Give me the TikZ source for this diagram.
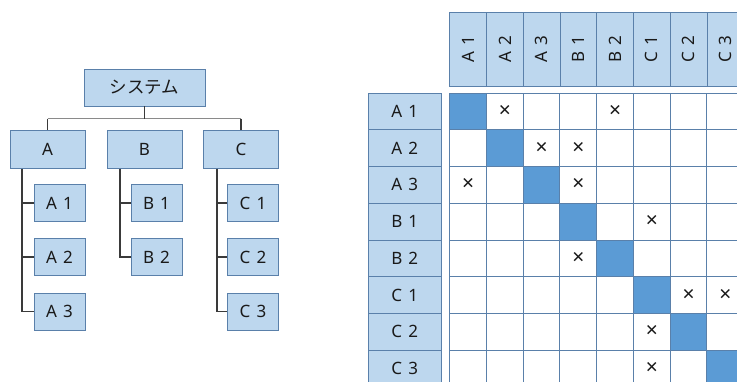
\documentclass[tikz,border=0pt]{standalone}
\usepackage{fontspec}
\setmainfont{Noto Sans}[WordSpace=1.4]
\newfontfamily\jpfont{Noto Sans CJK JP}
\definecolor{lb}{HTML}{BDD7EE}
\definecolor{bdr}{HTML}{5A80AA}
\definecolor{gridc}{HTML}{5A80AA}
\definecolor{diag}{HTML}{5B9BD5}
\definecolor{txt}{HTML}{1A1A1A}
\definecolor{cn}{HTML}{3A3A3A}
\definecolor{cnbar}{HTML}{8A8A8A}
\tikzset{
  box/.style={draw=bdr, fill=lb, line width=0.9pt, inner sep=0pt, text=txt,
    font=\fontsize{17}{20}\selectfont},
  conn/.style={draw=cn, line width=1.1pt},
  barline/.style={draw=cnbar, line width=1.3pt},
  gline/.style={draw=gridc, line width=0.9pt},
  xmark/.style={inner sep=0pt, text=txt, font=\fontsize{21}{21}\selectfont}
}
\begin{document}
\begin{tikzpicture}[x=1pt,y=-1pt]
\useasboundingbox (0,0) rectangle (737,381);
\clip (0,0) rectangle (737,381);
% ---------------- tree ----------------
\node[box, minimum width=121, minimum height=37, font=\jpfont\fontsize{17.5}{20}\selectfont] (sys) at (144.5,87.5) {システム};
\node[box, minimum width=75, minimum height=38] (A) at (47.5,149) {A};
\node[box, minimum width=75, minimum height=38] (B) at (144.5,149) {B};
\node[box, minimum width=75, minimum height=38] (C) at (241,149) {C};
\node[box, minimum width=51, minimum height=37] (A1) at (59.5,203) {A 1};
\node[box, minimum width=51, minimum height=37] (A2) at (59.5,257) {A 2};
\node[box, minimum width=51, minimum height=37] (A3) at (59.5,311.5) {A 3};
\node[box, minimum width=51, minimum height=37] (B1) at (156.5,203) {B 1};
\node[box, minimum width=51, minimum height=37] (B2) at (156.5,257) {B 2};
\node[box, minimum width=51, minimum height=37] (C1) at (253,203) {C 1};
\node[box, minimum width=51, minimum height=37] (C2) at (253,257) {C 2};
\node[box, minimum width=51, minimum height=37] (C3) at (253,311.5) {C 3};
\coordinate (bar) at (144.5,118.5);
\draw[barline] (A.north |- bar) -- (C.north |- bar);
\draw[conn] (sys.south) -- (bar);
\draw[conn] (A.north |- bar) -- (A.north);
\draw[conn] (C.north |- bar) -- (C.north);
\coordinate (ta) at (22,168.5);
\coordinate (tb) at (120,168.5);
\coordinate (tc) at (217,168.5);
\draw[conn] (ta) |- (A3.west);
\draw[conn] (ta |- A1.west) -- (A1.west);
\draw[conn] (ta |- A2.west) -- (A2.west);
\draw[conn] (tb) |- (B2.west);
\draw[conn] (tb |- B1.west) -- (B1.west);
\draw[conn] (tc) |- (C3.west);
\draw[conn] (tc |- C1.west) -- (C1.west);
\draw[conn] (tc |- C2.west) -- (C2.west);
% ---------------- matrix ----------------
\foreach \l [count=\i from 0] in {A 1,A 2,A 3,B 1,B 2,C 1,C 2,C 3} {
  \node[box, minimum width=73.5, minimum height=36.75] (r\i) at (404.75,{111.375+36.75*\i}) {\l};
  \node[box, minimum width=74.5, minimum height=36.75, rotate=90] (c\i) at ({468.125+36.75*\i},49.25) {\l};
  \fill[diag] ({449.5+36.75*\i},{93+36.75*\i}) rectangle ++(36.75,36.75);
}
\foreach \i in {0,...,8} {
  \draw[gline] ({449.5+36.75*\i},93) -- ({449.5+36.75*\i},387);
  \draw[gline] (449.5,{93+36.75*\i}) -- (743.5,{93+36.75*\i});
}
\foreach \r/\c in {0/1,0/4,1/2,1/3,2/0,2/3,3/5,4/3,5/6,5/7,6/5,7/5} {
  \node[xmark] (x\r\c) at ({468.125+36.75*\c},{111.375+36.75*\r}) {×};
}
\end{tikzpicture}
\end{document}
